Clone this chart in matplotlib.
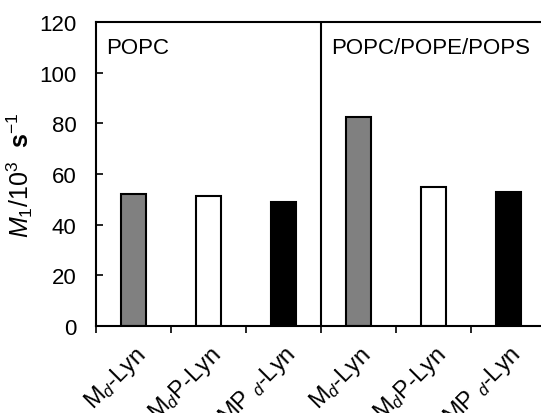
import numpy as np
import matplotlib.pyplot as plt

plt.rcParams['font.family'] = ['Liberation Sans', 'DejaVu Sans']
plt.rcParams['mathtext.fontset'] = 'custom'
plt.rcParams['mathtext.rm'] = 'Liberation Sans'
plt.rcParams['mathtext.it'] = 'Liberation Sans:italic'
plt.rcParams['mathtext.bf'] = 'Liberation Sans:bold'

# data
labels = ['M$_d$-Lyn', 'M$_d$P-Lyn', 'MP $_d$-Lyn',
          'M$_d$-Lyn', 'M$_d$P-Lyn', 'MP $_d$-Lyn']
values = [52, 51.5, 49, 82.5, 55, 53]
colors = ['#808080', 'white', 'black', '#808080', 'white', 'black']
groups = ['POPC', 'POPC/POPE/POPS']

fig = plt.figure(figsize=(5.41, 4.14), dpi=100)
ax = fig.add_axes([0.1774, 0.21, 0.832, 0.734])

x = np.arange(len(values)) + 0.5
ax.bar(x, values, width=0.33, color=colors, edgecolor='black', linewidth=1.5)

ax.set_xlim(0, 6)
ax.set_ylim(0, 120)
ax.set_yticks(np.arange(0, 121, 20))
ax.tick_params(axis='y', direction='in', length=5, width=1.2, labelsize=16, pad=14)

ax.set_xticks(np.arange(0, 7))
ax.set_xticklabels([])
ax.tick_params(axis='x', which='major', direction='out', length=5, width=1.2)
ax.set_xticks(x, minor=True)
ax.set_xticklabels(labels, minor=True, rotation=45, ha='right',
                   rotation_mode='anchor', fontsize=17)
ax.tick_params(axis='x', which='minor', length=0, pad=11)

for s in ax.spines.values():
    s.set_linewidth(1.5)

ax.axvline(3, color='black', linewidth=1.5)
ax.text(0.13, 110, groups[0], fontsize=16, va='center')
ax.text(3.13, 110, groups[1], fontsize=16, va='center')

ax.set_ylabel(r'$\mathit{M}_1$/10$^3$  $\mathbf{s}^{-1}$', fontsize=18, labelpad=3)

fig.savefig('out.png', dpi=100)
